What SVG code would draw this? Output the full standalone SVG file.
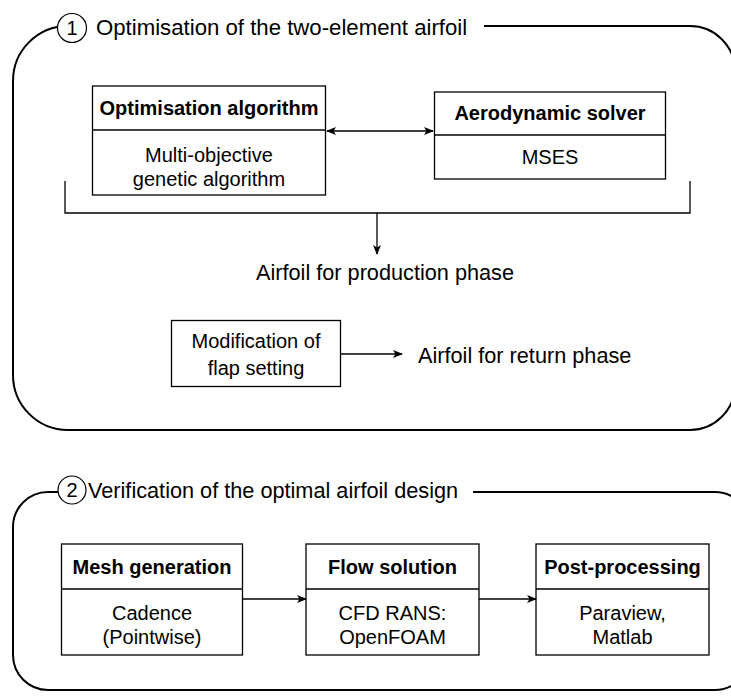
<svg xmlns="http://www.w3.org/2000/svg" width="731" height="699" viewBox="0 0 731 699">
  <defs>
    <marker id="arrow" viewBox="0 0 10 8" refX="9" refY="4" markerWidth="10" markerHeight="8" markerUnits="userSpaceOnUse" orient="auto-start-reverse">
      <path d="M0,0 L10,4 L0,8 L2.5,4 Z" fill="#000"/>
    </marker>
  </defs>
  <style>
    text { font-family: "Liberation Sans", Arial, Helvetica, sans-serif; fill: #000; }
    .frame { fill: none; stroke: #000; stroke-width: 2; }
    .badge { fill: #fff; stroke: #000; stroke-width: 1.2; }
    .box { fill: #fff; stroke: #000; stroke-width: 1.3; }
    .div { stroke: #000; stroke-width: 1.3; }
    .title { font-size: 21.7px; }
    .num { font-size: 20px; }
    .hdr { font-size: 20px; font-weight: bold; }
    .body { font-size: 20px; }
    .out { font-size: 21.7px; }
    .conn { fill: none; stroke: #000; stroke-width: 1.3; }
  </style>

  <!-- Stage 1: optimisation -->
  <g id="stage1">
    <path class="frame" d="M484,26 H690 A45,45 0 0 1 735,71 V385 A45,45 0 0 1 690,430 H68 A55,55 0 0 1 13,375 V81 A55,55 0 0 1 68,26 H74"/>
    <circle class="badge" cx="72" cy="28" r="14.5"/>
    <text class="num" x="72" y="28" text-anchor="middle" dominant-baseline="central">1</text>
    <text class="title" x="96" y="35" style="font-size:22.2px">Optimisation of the two-element airfoil</text>
  </g>

  <g id="optimiser">
    <rect class="box" x="92.5" y="86" width="233" height="109"/>
    <line class="div" x1="92.5" y1="130" x2="325.5" y2="130"/>
    <text class="hdr" x="209" y="108" text-anchor="middle" dominant-baseline="central">Optimisation algorithm</text>
    <text class="body" x="209" y="155" text-anchor="middle" dominant-baseline="central">Multi-objective</text>
    <text class="body" x="209" y="179" text-anchor="middle" dominant-baseline="central">genetic algorithm</text>
  </g>

  <g id="solver">
    <rect class="box" x="434.5" y="92" width="231" height="87"/>
    <line class="div" x1="434.5" y1="135" x2="665.5" y2="135"/>
    <text class="hdr" x="550" y="113" text-anchor="middle" dominant-baseline="central">Aerodynamic solver</text>
    <text class="body" x="550" y="157" text-anchor="middle" dominant-baseline="central">MSES</text>
  </g>

  <g id="production">
    <text class="out" x="385" y="272" text-anchor="middle" dominant-baseline="central">Airfoil for production phase</text>
  </g>

  <g id="flap">
    <rect class="box" x="171.5" y="320.5" width="169" height="66"/>
    <text class="body" x="256" y="341" text-anchor="middle" dominant-baseline="central">Modification of</text>
    <text class="body" x="256" y="368" text-anchor="middle" dominant-baseline="central">flap setting</text>
  </g>

  <g id="return">
    <text class="out" x="418" y="355" dominant-baseline="central">Airfoil for return phase</text>
  </g>

  <!-- Stage 2: verification -->
  <g id="stage2">
    <path class="frame" d="M473,492 H715 A35,35 0 0 1 750,527 V655 A35,35 0 0 1 715,690 H48 A35,35 0 0 1 13,655 V527 A35,35 0 0 1 48,492 H62"/>
    <circle class="badge" cx="72" cy="490" r="14"/>
    <text class="num" x="72" y="490" text-anchor="middle" dominant-baseline="central">2</text>
    <text class="title" x="88" y="490" dominant-baseline="central">Verification of the optimal airfoil design</text>
  </g>

  <g id="mesh">
    <rect class="box" x="61.5" y="544" width="181" height="111"/>
    <line class="div" x1="61.5" y1="589" x2="242.5" y2="589"/>
    <text class="hdr" x="152" y="567" text-anchor="middle" dominant-baseline="central">Mesh generation</text>
    <text class="body" x="152" y="613" text-anchor="middle" dominant-baseline="central">Cadence</text>
    <text class="body" x="152" y="637" text-anchor="middle" dominant-baseline="central">(Pointwise)</text>
  </g>

  <g id="flow">
    <rect class="box" x="306" y="544" width="173" height="111"/>
    <line class="div" x1="306" y1="589" x2="479" y2="589"/>
    <text class="hdr" x="392.5" y="567" text-anchor="middle" dominant-baseline="central">Flow solution</text>
    <text class="body" x="392.5" y="613" text-anchor="middle" dominant-baseline="central">CFD RANS:</text>
    <text class="body" x="392.5" y="637" text-anchor="middle" dominant-baseline="central">OpenFOAM</text>
  </g>

  <g id="post">
    <rect class="box" x="536" y="544" width="173" height="111"/>
    <line class="div" x1="536" y1="589" x2="709" y2="589"/>
    <text class="hdr" x="622.5" y="567" text-anchor="middle" dominant-baseline="central">Post-processing</text>
    <text class="body" x="622.5" y="613" text-anchor="middle" dominant-baseline="central">Paraview,</text>
    <text class="body" x="622.5" y="637" text-anchor="middle" dominant-baseline="central">Matlab</text>
  </g>

  <!-- connectors -->
  <g id="connectors">
    <path class="conn" d="M327,131 H433" marker-start="url(#arrow)" marker-end="url(#arrow)"/>
    <path class="conn" d="M65,181 V213 H690 V181"/>
    <path class="conn" d="M377,213 V254" marker-end="url(#arrow)"/>
    <path class="conn" d="M341,354 H402" marker-end="url(#arrow)"/>
    <path class="conn" d="M243,599 H306" marker-end="url(#arrow)"/>
    <path class="conn" d="M479,599 H536" marker-end="url(#arrow)"/>
  </g>
</svg>
